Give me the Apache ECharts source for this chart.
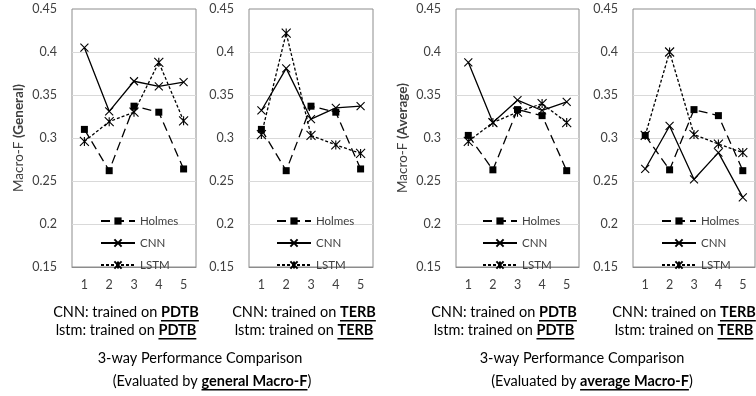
<!DOCTYPE html>
<html><head><meta charset="utf-8">
<script src="https://cdn.jsdelivr.net/npm/echarts@6/dist/echarts.min.js"></script>
<style>html,body{margin:0;padding:0;background:#fff}#c{width:756px;height:396px}</style>
</head><body><div id="c"></div>
<script>
// ---- data ----
const categories = ['1', '2', '3', '4', '5'];
const seriesNames = ['Holmes', 'CNN', 'LSTM'];
const yMin = 0.15, yMax = 0.45, yStep = 0.05;

const holmesGeneral   = [0.310, 0.262, 0.337, 0.330, 0.264];
const cnnGeneralPDTB  = [0.405, 0.331, 0.366, 0.360, 0.365];
const lstmGeneralPDTB = [0.296, 0.319, 0.330, 0.388, 0.320];
const cnnGeneralTERB  = [0.332, 0.381, 0.322, 0.335, 0.337];
const lstmGeneralTERB = [0.304, 0.422, 0.303, 0.292, 0.282];

const holmesAverage   = [0.303, 0.263, 0.333, 0.326, 0.262];
const cnnAveragePDTB  = [0.388, 0.318, 0.344, 0.332, 0.342];
const lstmAveragePDTB = [0.296, 0.318, 0.330, 0.340, 0.318];
const cnnAverageTERB  = [0.264, 0.314, 0.252, 0.283, 0.231];
const lstmAverageTERB = [0.303, 0.400, 0.304, 0.293, 0.283];

const yNameGeneral = ['Macro-F ', '(General)'];
const yNameAverage = ['Macro-F ', '(Average)'];

const panels = [
  {holmes: holmesGeneral, cnn: cnnGeneralPDTB, lstm: lstmGeneralPDTB, yName: yNameGeneral},
  {holmes: holmesGeneral, cnn: cnnGeneralTERB, lstm: lstmGeneralTERB, yName: null},
  {holmes: holmesAverage, cnn: cnnAveragePDTB, lstm: lstmAveragePDTB, yName: yNameAverage},
  {holmes: holmesAverage, cnn: cnnAverageTERB, lstm: lstmAverageTERB, yName: null}
];

// bottom captions: [text, bold+underline]
const captionRows = [
  {cx: 126, y: 312, segs: [['CNN: trained on ', 0], ['PDTB', 1]]},
  {cx: 126, y: 330, segs: [['lstm: trained on ', 0], ['PDTB', 1]]},
  {cx: 304, y: 312, segs: [['CNN: trained on ', 0], ['TERB', 1]]},
  {cx: 304, y: 330, segs: [['lstm: trained on ', 0], ['TERB', 1]]},
  {cx: 200, y: 358, segs: [['3-way Performance Comparison', 0]]},
  {cx: 212, y: 381, segs: [['(Evaluated by ', 0], ['general Macro-F', 1], [')', 0]]},
  {cx: 504, y: 312, segs: [['CNN: trained on ', 0], ['PDTB', 1]]},
  {cx: 504, y: 330, segs: [['lstm: trained on ', 0], ['PDTB', 1]]},
  {cx: 684, y: 312, segs: [['CNN: trained on ', 0], ['TERB', 1]]},
  {cx: 684, y: 330, segs: [['lstm: trained on ', 0], ['TERB', 1]]},
  {cx: 582, y: 358, segs: [['3-way Performance Comparison', 0]]},
  {cx: 592, y: 381, segs: [['(Evaluated by ', 0], ['average Macro-F', 1], [')', 0]]}
];

// ---- layout / style ----
const FONT = 'Lato, "Open Sans", sans-serif';
const gridBoxes = [
  {left: 72, top: 9, width: 124, height: 258},
  {left: 249, top: 9, width: 124, height: 258},
  {left: 456, top: 9, width: 123, height: 258},
  {left: 633, top: 9, width: 122, height: 258}
];
const legendPos = [{left: 100, top: 215}, {left: 276, top: 215}, {left: 482, top: 215}, {left: 661, top: 215}];

const SYM_X = 'path://M0,0L10,10M10,0L0,10';
const SYM_AST = 'path://M0,0L10,10M10,0L0,10M5,0L5,10';
const styles = {
  Holmes: {symbol: 'rect', symbolSize: 7, lineStyle: {color: '#000', width: 1.3, type: [9, 5]},
           itemStyle: {color: '#000', borderColor: '#000', borderWidth: 0}},
  CNN: {symbol: SYM_X, symbolSize: 8, lineStyle: {color: '#000', width: 1.3, type: 'solid'},
        itemStyle: {color: '#000', borderColor: '#000', borderWidth: 1.1}},
  LSTM: {symbol: SYM_AST, symbolSize: 9, lineStyle: {color: '#000', width: 1.3, type: [3, 2]},
         itemStyle: {color: '#000', borderColor: '#000', borderWidth: 1.1}}
};

const grid = [], xAxis = [], yAxis = [], series = [], legend = [];
panels.forEach((p, i) => {
  grid.push(Object.assign({show: true, borderColor: '#8c8c8c', borderWidth: 1, backgroundColor: '#fff'}, gridBoxes[i]));
  xAxis.push({
    type: 'category', gridIndex: i, data: categories, boundaryGap: true,
    axisLine: {show: true, lineStyle: {color: '#8c8c8c'}}, axisTick: {show: false},
    axisLabel: {color: '#404040', fontFamily: FONT, fontSize: 12.5, margin: 11}
  });
  const ya = {
    type: 'value', gridIndex: i, min: yMin, max: yMax, interval: yStep,
    axisLine: {show: false}, axisTick: {show: false},
    axisLabel: {color: '#404040', fontFamily: FONT, fontSize: 12.5, margin: 15,
                formatter: v => String(+v.toFixed(2))},
    splitLine: {show: true, showMinLine: false, showMaxLine: false, lineStyle: {color: '#d9d9d9', width: 1}}
  };
  if (p.yName) {
    ya.name = '{a|' + p.yName[0] + '}{b|' + p.yName[1] + '}';
    ya.nameLocation = 'middle';
    ya.nameRotate = 90;
    ya.nameGap = 46;
    ya.nameTextStyle = {color: '#404040', fontFamily: FONT, fontSize: 13.5,
      rich: {a: {fontFamily: FONT, fontSize: 13.5, color: '#404040'},
             b: {fontFamily: FONT, fontSize: 13.5, color: '#404040', fontWeight: 'bold'}}};
  }
  yAxis.push(ya);
  const vals = {Holmes: p.holmes, CNN: p.cnn, LSTM: p.lstm};
  seriesNames.forEach(n => {
    series.push(Object.assign({
      type: 'line', name: n, xAxisIndex: i, yAxisIndex: i, data: vals[n],
      showAllSymbol: true, silent: true, emphasis: {disabled: true}, z: n === 'Holmes' ? 3 : 2
    }, JSON.parse(JSON.stringify(styles[n]))));
  });
  legend.push({
    data: seriesNames, orient: 'vertical', left: legendPos[i].left, top: legendPos[i].top,
    itemWidth: 34, itemHeight: 9, itemGap: 10, padding: 0, selectedMode: false,
    textStyle: {color: '#404040', fontFamily: FONT, fontSize: 11.5}
  });
});

// captions with bold+underline segments
const ctx = document.createElement('canvas').getContext('2d');
const CAP_SIZE = 14.5;
const graphic = [];
captionRows.forEach(r => {
  const widths = r.segs.map(([t, b]) => {
    ctx.font = (b ? 'bold ' : '') + CAP_SIZE + 'px ' + FONT;
    return ctx.measureText(t).width;
  });
  const total = widths.reduce((a, b) => a + b, 0);
  let x = r.cx - total / 2;
  r.segs.forEach(([t, b], k) => {
    graphic.push({type: 'text', x: x, y: r.y, silent: true,
      style: {text: t, x: 0, y: 0, fill: '#000', font: (b ? 'bold ' : '') + CAP_SIZE + 'px ' + FONT,
              textAlign: 'left', textVerticalAlign: 'middle'}});
    if (b) {
      graphic.push({type: 'rect', x: x, y: r.y + CAP_SIZE * 0.55, silent: true,
        shape: {x: 0, y: 0, width: widths[k], height: 1.5}, style: {fill: '#000'}});
    }
    x += widths[k];
  });
});

const chart = echarts.init(document.getElementById('c'), null, {renderer: 'canvas'});
chart.setOption({animation: false, backgroundColor: '#fff', grid, xAxis, yAxis, series, legend, graphic});
</script></body></html>
